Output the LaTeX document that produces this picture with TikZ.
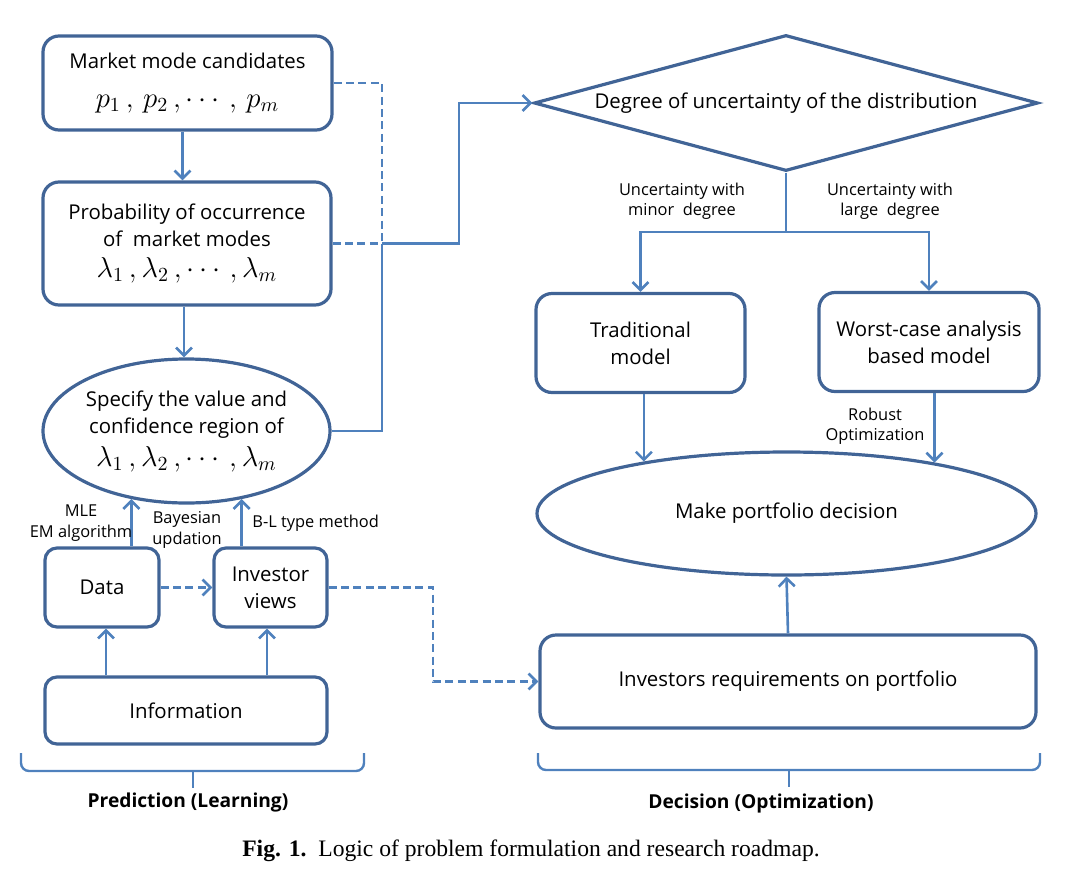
\documentclass[tikz,border=0pt]{standalone}
\usepackage{fontspec}
\setmainfont{Open Sans}
\newfontfamily\capfont{Liberation Serif}
\usetikzlibrary{shapes.geometric,arrows.meta,calc}
\definecolor{boxc}{RGB}{65,100,150}
\definecolor{arrc}{RGB}{79,129,189}
\newcommand\mainfs{\fontsize{10.2}{13.5}\selectfont}
\newcommand\lblfs{\fontsize{8.2}{10.2}\selectfont}
\newcommand\mathfs{\fontsize{14.5}{16}\selectfont}
\begin{document}
\begin{tikzpicture}[x=0.5pt,y=-0.5pt,
  box/.style={draw=boxc,line width=1.6pt,rounded corners=8pt,align=center,font=\mainfs,inner sep=0pt},
  sbox/.style={box,rounded corners=6pt},
  ell/.style={draw=boxc,line width=1.6pt,ellipse,align=center,font=\mainfs,inner sep=0pt},
  conn/.style={draw=arrc,line width=1.3pt},
  arr/.style={conn,-{Straight Barb[length=4pt,width=8pt]}},
  dsh/.style={conn,dash pattern=on 4pt off 2.2pt},
  dsharr/.style={dsh,-{Straight Barb[length=4pt,width=8pt]}},
  lbl/.style={font=\lblfs,align=center,inner sep=0pt},
  brace/.style={draw=arrc,line width=1.2pt,rounded corners=4pt},
  blbl/.style={font=\fontsize{9.6}{11}\selectfont\bfseries,inner sep=0pt}
]
\useasboundingbox (0,0) rectangle (1086,884);

% left column
\node[box,minimum width=144.5pt,minimum height=47pt] (mm) at (187.5,83)
  {Market mode candidates\\[6pt]{\mathfs$p_1\,,\,p_2\,,\cdots\,,\,p_m$}};
\node[box,minimum width=144pt,minimum height=61.5pt] (po) at (187,243.5)
  {Probability of occurrence\\of~ market modes\\[2pt]{\mathfs$\lambda_1\,,\lambda_2\,,\cdots\,,\lambda_m$}};
\node[ell,minimum width=143.5pt,minimum height=72pt] (sp) at (186.5,431)
  {Specify the value and\\confidence region of\\[3pt]{\mathfs$\lambda_1\,,\lambda_2\,,\cdots\,,\lambda_m$}};
\node[sbox,minimum width=57pt,minimum height=39.5pt] (da) at (102,587.5) {Data};
\node[sbox,minimum width=56.5pt,minimum height=39.5pt] (iv) at (270.5,587.5) {Investor\\views};
\node[sbox,minimum width=141pt,minimum height=33.5pt] (in) at (186,710.5) {Information};

% right column
\node[draw=boxc,line width=1.6pt,diamond,shape aspect=3.7,minimum width=252pt,minimum height=68pt,inner sep=0pt,font=\mainfs] (dg) at (786,103)
  {Degree of uncertainty of the distribution};
\node[box,minimum width=104.5pt,minimum height=49.5pt] (tr) at (640.5,343) {Traditional\\model};
\node[box,minimum width=110pt,minimum height=49.5pt] (wc) at (929,342) {Worst-case analysis\\based model};
\node[ell,minimum width=249.5pt,minimum height=61.5pt] (mp) at (786.5,513.5) {Make portfolio decision};
\node[box,minimum width=248pt,minimum height=46.5pt] (ir) at (788,681.5) {Investors requirements on portfolio};

% junction coordinates
\coordinate (j1) at (382,243.5);
\coordinate (j2) at (459,243.5);
\coordinate (j3) at (433,681.5);
\coordinate (j4) at (786,232);

% left connectors
\draw[arr] ([xshift=-2.5pt]mm.south) -- ([xshift=-2.5pt]mm.south |- po.north);
\draw[arr] ([xshift=-1.5pt]po.south) -- ([xshift=-1.5pt]po.south |- sp.north);
\draw[dsh] (mm.east) -| (j1);
\draw[dsh] (po.east) -- (j1);
\draw[conn] (sp.east) -| (j1);
\draw[arr] (j1) -- (j2) |- (dg.west);
\draw[arr] (sp.231 |- da.north) -- (sp.231);
\draw[arr] (sp.309 |- iv.north) -- (sp.309);
\draw[arr] ([xshift=2pt]da.south |- in.north) -- ([xshift=2pt]da.south);
\draw[arr] ([xshift=-1.75pt]iv.south |- in.north) -- ([xshift=-1.75pt]iv.south);
\draw[dsharr] (da.east) -- (iv.west);
\draw[dsharr] (iv.east) -| (j3) -- (ir.west);

% right connectors
\draw[conn] (dg.south) -- (j4);
\draw[arr] (j4) -| (tr.north);
\draw[arr] (j4) -| (wc.north);
\draw[arr] (mp.160.5 |- tr.south) -- (mp.160.5);
\draw[arr] (mp.19.3 |- wc.south) -- (mp.19.3);
\draw[arr] (ir.north) -- (mp.south);

% labels
\node[lbl] (l1) at (682,201) {Uncertainty with\\minor~ degree};
\node[lbl] (l2) at (890,201) {Uncertainty with\\large~ degree};
\node[lbl] (l3) at (875,426) {Robust\\Optimization};
\node[lbl] (l4) at (81,523) {MLE\\EM algorithm};
\node[lbl] (l5) at (187,530) {Bayesian\\updation};
\node[lbl,anchor=west] (l6) at (252,523) {B-L type method};

% braces
\coordinate (b1a) at (21,753); \coordinate (b1b) at (193,771); \coordinate (b1c) at (364,753);
\draw[brace] (b1a) |- (b1b) -| (b1c);
\draw[brace] (b1b) -- ++(0,17);
\coordinate (b2a) at (538,753); \coordinate (b2b) at (789,770); \coordinate (b2c) at (1040,753);
\draw[brace] (b2a) |- (b2b) -| (b2c);
\draw[brace] (b2b) -- ++(0,17);
\node[blbl] (pl) at (188,802) {Prediction (Learning)};
\node[blbl] (dl) at (761,803) {Decision (Optimization)};

% caption
\node[font=\capfont\fontsize{11.8}{13}\selectfont,inner sep=0pt] (cap) at (531,851)
  {\textbf{Fig. 1.}\ \ Logic of problem formulation and research roadmap.};
\end{tikzpicture}
\end{document}
